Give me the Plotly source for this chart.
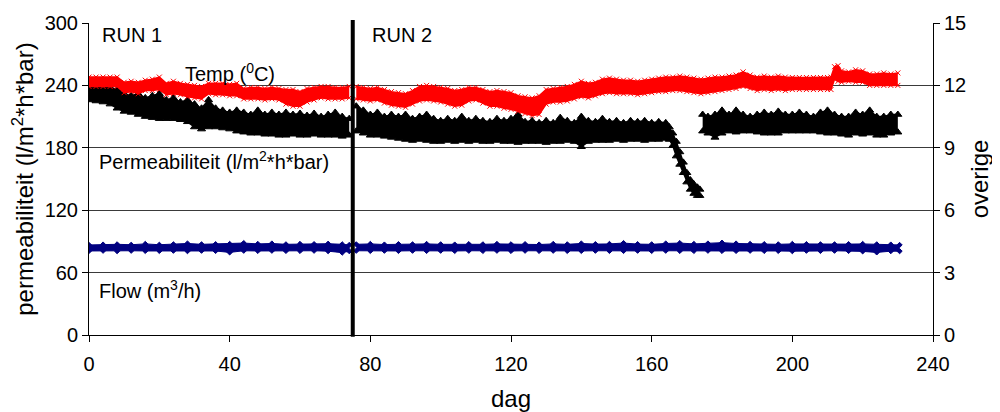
import plotly.graph_objects as go

# ---------------- data ----------------
# Permeabiliteit (l/m2*h*bar), left axis: band upper / lower edges
perm_r1_days = list(range(0, 75, 2))
perm_r1_hi = [244, 242, 240, 238, 236, 232, 230, 232, 228, 230, 232, 226, 228, 224, 226, 222, 218, 226, 218, 216,
              214, 216, 214, 212, 216, 212, 214, 212, 214, 212, 213, 211, 213, 210, 212, 214, 210, 208]
perm_r1_lo = [226, 225, 224, 222, 218, 215, 214, 212, 210, 209, 208, 208, 208, 207, 205, 200, 198, 200, 200, 199,
              198, 196, 195, 194, 194, 193, 193, 192, 192, 193, 192, 192, 193, 192, 192, 192, 191, 192]

perm_r2a_days = list(range(76, 165, 2)) + [165, 166, 167, 168, 169, 170, 171, 172, 173, 173.7]
perm_r2a_hi = [220, 216, 212, 214, 210, 212, 210, 212, 208, 210, 212, 208, 206, 208, 206, 210, 206, 208, 206, 205,
               208, 206, 208, 212, 205, 206, 204, 206, 204, 209, 206, 204, 210, 206, 205, 208, 205, 206, 204, 206,
               205, 206, 204, 205, 204,
               200, 194, 186, 176, 166, 156, 149, 145, 142, 140]
perm_r2a_lo = [196, 194, 192, 192, 191, 190, 189, 188, 187, 188, 187, 186, 186, 187, 186, 187, 186, 187, 186, 186,
               187, 186, 186, 185, 186, 186, 186, 185, 186, 186, 187, 186, 181, 186, 187, 187, 187, 188, 187, 188,
               188, 187, 188, 188, 189,
               188, 182, 172, 164, 156, 147, 140, 136, 134, 134]

perm_r2b_days = [174.5] + list(range(176, 231, 2))
perm_r2b_hi = [212, 210, 212, 216, 212, 216, 212, 210, 212, 214, 212, 215, 212, 212, 214, 212, 210, 214, 216, 212,
               210, 210, 214, 212, 216, 210, 210, 212, 212]
perm_r2b_lo = [196, 194, 190, 194, 196, 195, 196, 196, 195, 194, 194, 194, 196, 196, 196, 196, 196, 195, 194, 194,
               193, 192, 194, 193, 194, 192, 192, 194, 195]

# Temp (0C), right axis
temp_r1_days = list(range(0, 75, 2))
temp_r1_hi = [12.4, 12.4, 12.4, 12.4, 12.4, 12.15, 12.2, 12.15, 12.25, 12.3, 12.4, 12.1, 12.2, 12.1, 12.05, 12.0,
              11.95, 12.1, 12.1, 12.1, 12.05, 12.1, 11.85, 11.9, 11.9, 11.85, 11.9, 11.85, 11.8, 11.8, 11.7, 11.85,
              11.9, 11.95, 11.95, 11.9, 11.9, 11.95]
temp_r1_lo = [11.95, 11.95, 11.95, 11.95, 11.95, 11.65, 11.7, 11.6, 11.75, 11.75, 11.8, 11.55, 11.6, 11.55, 11.45,
              11.4, 11.35, 11.6, 11.55, 11.55, 11.5, 11.5, 11.35, 11.35, 11.35, 11.3, 11.35, 11.3, 11.1, 11.0, 11.0,
              11.2, 11.3, 11.4, 11.35, 11.35, 11.35, 11.4]

temp_r2_days = list(range(76, 211, 2)) + [211, 212, 213] + list(range(214, 231, 2))
temp_r2_hi = [11.95, 11.9, 11.85, 11.9, 11.8, 11.7, 11.65, 11.6, 11.75, 11.95,
              12.0, 11.95, 11.9, 11.85, 11.75, 11.8, 11.9, 11.9, 11.8, 11.7,
              11.75, 11.7, 11.65, 11.5, 11.45, 11.4, 11.5, 11.8, 11.85, 11.9,
              11.95, 12.05, 12.2, 12.1, 12.15, 12.3, 12.35, 12.3, 12.25, 12.25,
              12.2, 12.25, 12.3, 12.35, 12.4, 12.4, 12.45, 12.4, 12.35, 12.3,
              12.35, 12.4, 12.4, 12.45, 12.5, 12.65, 12.5, 12.4, 12.45, 12.4,
              12.45, 12.4, 12.38, 12.38, 12.38, 12.38, 12.38, 12.38,
              12.4, 12.9, 12.95,
              12.7, 12.65, 12.75, 12.7, 12.55, 12.55, 12.6, 12.55, 12.6]
temp_r2_lo = [11.35, 11.3, 11.25, 11.3, 11.15, 11.05, 11.0, 10.95, 11.1, 11.25,
              11.3, 11.25, 11.2, 11.1, 11.0, 11.05, 11.25, 11.3, 11.15, 11.0,
              11.0, 10.9, 10.85, 10.75, 10.65, 10.55, 10.6, 11.1, 11.2, 11.2,
              11.25, 11.35, 11.45, 11.4, 11.5, 11.6, 11.65, 11.6, 11.6, 11.6,
              11.55, 11.6, 11.65, 11.7, 11.7, 11.75, 11.75, 11.7, 11.65, 11.6,
              11.65, 11.7, 11.75, 11.8, 11.85, 11.95, 11.85, 11.75, 11.8, 11.75,
              11.8, 11.75, 11.8, 11.8, 11.8, 11.8, 11.8, 11.8,
              11.8, 12.3, 12.2,
              12.15, 12.2, 12.15, 12.15, 12.0, 12.0, 12.0, 12.0, 12.0]

# Flow (m3/h), right axis
flow_r1_days = list(range(0, 73, 4)) + [74]
flow_r1_hi = [4.33, 4.35, 4.36, 4.34, 4.38, 4.34, 4.36, 4.40, 4.36, 4.37, 4.38, 4.42, 4.38, 4.40, 4.36, 4.38,
              4.37, 4.39, 4.36, 4.33]
flow_r1_lo = [4.04, 4.05, 4.03, 4.05, 4.04, 4.04, 4.05, 4.03, 4.05, 4.04, 3.97, 4.05, 4.04, 4.05, 4.04, 4.04,
              4.05, 4.03, 3.96, 4.03]
flow_r2_days = list(range(76, 229, 4)) + [230.5]
flow_r2_hi = [4.36, 4.38, 4.35, 4.37, 4.36, 4.38, 4.36, 4.35, 4.37, 4.36, 4.38, 4.36, 4.37, 4.35, 4.38, 4.36,
              4.40, 4.37, 4.38, 4.42, 4.37, 4.36, 4.40, 4.42, 4.38, 4.40, 4.44, 4.40, 4.38, 4.37, 4.36, 4.38,
              4.37, 4.36, 4.36, 4.37, 4.38, 4.36, 4.35, 4.33]
flow_r2_lo = [4.05, 4.04, 4.05, 4.04, 4.05, 4.04, 4.05, 4.04, 4.05, 4.04, 4.05, 4.04, 4.05, 4.04, 4.05, 4.04,
              4.04, 4.05, 4.04, 4.04, 4.05, 4.04, 4.05, 4.04, 4.04, 4.05, 4.04, 4.04, 4.05, 4.04, 4.04, 4.03,
              4.05, 4.04, 4.05, 4.04, 4.02, 3.97, 4.03, 4.03]

run_split_day = 75
x_ticks = [0, 40, 80, 120, 160, 200, 240]
y_left_ticks = [0, 60, 120, 180, 240, 300]
y_right_ticks = [0, 3, 6, 9, 12, 15]

# ---------------- figure ----------------
FONT = "Liberation Sans, Arial, sans-serif"
RED = "#FF0000"
BLACK = "#000000"
NAVY = "#000080"

fig = go.Figure()


def band(days, lo, hi, color, symbol, msize, yaxis, lw=1.5):
    mk = dict(symbol=symbol, size=msize, color=color, line=dict(color=color, width=1))
    fig.add_trace(go.Scatter(x=days, y=lo, yaxis=yaxis, mode="lines+markers",
                             line=dict(color=color, width=lw), marker=mk,
                             showlegend=False, hoverinfo="skip", cliponaxis=True))
    fig.add_trace(go.Scatter(x=days, y=hi, yaxis=yaxis, mode="lines+markers",
                             line=dict(color=color, width=lw), fill="tonexty", fillcolor=color,
                             marker=mk, showlegend=False, hoverinfo="skip", cliponaxis=True))


band(flow_r1_days, flow_r1_lo, flow_r1_hi, NAVY, "diamond", 4, "y2", 1)
band(flow_r2_days, flow_r2_lo, flow_r2_hi, NAVY, "diamond", 4, "y2", 1)
band(perm_r1_days, perm_r1_lo, perm_r1_hi, BLACK, "triangle-up", 7, "y")
band(perm_r2a_days, perm_r2a_lo, perm_r2a_hi, BLACK, "triangle-up", 7, "y")
band(perm_r2b_days, perm_r2b_lo, perm_r2b_hi, BLACK, "triangle-up", 7, "y")
band(temp_r1_days, temp_r1_lo, temp_r1_hi, RED, "x-thin", 5, "y2")
band(temp_r2_days, temp_r2_lo, temp_r2_hi, RED, "x-thin", 5, "y2")

# Run separator
fig.add_shape(type="line", xref="x", yref="paper", x0=run_split_day, x1=run_split_day,
              y0=-0.006, y1=1.01, line=dict(color="black", width=4))

ann_font = dict(family=FONT, size=20, color="black")
annotations = [
    dict(text="RUN 1", x=3.1, y=288, xanchor="left", yanchor="middle"),
    dict(text="RUN 2", x=80, y=288, xanchor="left", yanchor="middle"),
    dict(text="Temp (<sup>0</sup>C)", x=26.7, y=252, xanchor="left", yanchor="middle"),
    dict(text="Permeabiliteit (l/m<sup>2</sup>*h*bar)", x=2.3, y=168, xanchor="left", yanchor="middle"),
    dict(text="Flow (m<sup>3</sup>/h)", x=2.3, y=44, xanchor="left", yanchor="middle"),
]
for a in annotations:
    a.update(xref="x", yref="y", showarrow=False, font=ann_font)

# The page body adds an 8 px offset, so the figure is sized/margined to compensate.
fig.update_layout(
    width=992, height=404,
    margin=dict(l=81, r=67, t=15, b=77, autoexpand=False),
    paper_bgcolor="white", plot_bgcolor="white",
    font=dict(family=FONT, size=20, color="black"),
    showlegend=False,
    annotations=annotations,
    xaxis=dict(range=[0, 240], tickvals=x_ticks, ticks="outside", ticklen=6, tickcolor="black",
               showline=True, linecolor="black", linewidth=1, showgrid=False, zeroline=False,
               automargin=False, ticklabelstandoff=5,
               title=dict(text="dag", standoff=16), tickfont=dict(size=20)),
    yaxis=dict(range=[0, 300], tickvals=y_left_ticks, ticks="outside", ticklen=6, tickcolor="black",
               showline=True, linecolor="black", linewidth=1, showgrid=True, gridcolor="#3a3a3a",
               gridwidth=1, zeroline=False, automargin=False,
               title=dict(text="permeabiliteit (l/m<sup>2</sup>*h*bar)", standoff=7),
               tickfont=dict(size=20)),
    yaxis2=dict(range=[0, 15], tickvals=y_right_ticks, overlaying="y", side="right", ticks="outside",
                ticklen=6, tickcolor="black", showline=True, linecolor="black", linewidth=1,
                showgrid=False, zeroline=False, automargin=False,
                title=dict(text="overige", standoff=5), tickfont=dict(size=20)),
)

fig.write_html("out.html")
